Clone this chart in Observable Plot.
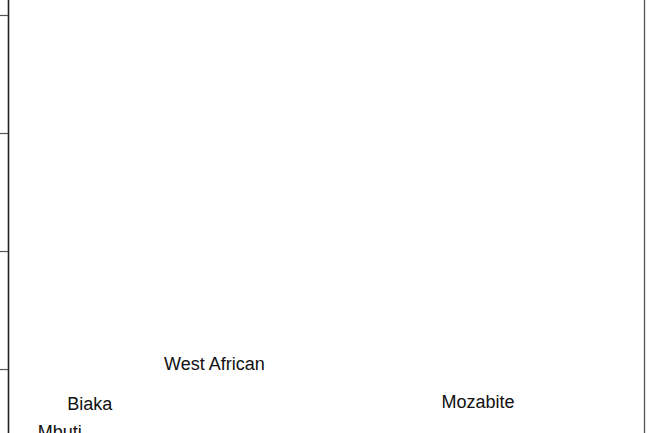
<!DOCTYPE html>
<html>
<head>
<meta charset="utf-8">
<script src="https://cdn.jsdelivr.net/npm/d3@7"></script>
<script src="https://cdn.jsdelivr.net/npm/@observablehq/plot@0.6"></script>
<style>
  html, body { margin: 0; padding: 0; background: #fff; }
  #chart svg { display: block; }
</style>
</head>
<body>
<div id="chart"></div>
<script>
// Population labels positioned by their coordinates (e.g. PC1, PC2)
const populations = ["West African", "Biaka", "Mozabite", "Mbuti"];
const pc1 = [0.0471, -0.0117, 0.1715, -0.0258];
const pc2 = [0.0041, -0.0298, -0.0273, -0.0529];
const yTicks = [0.0, 0.1, 0.2, 0.3];
const xDomain = [-0.05, 0.25];
const yDomain = [-0.0542, 0.3127];

const data = populations.map((p, i) => ({pop: p, x: pc1[i], y: pc2[i]}));

const chart = Plot.plot({
  width: 650,
  height: 433,
  marginLeft: 8,
  marginRight: 6,
  marginTop: 0,
  marginBottom: 0,
  style: {fontFamily: "'Liberation Sans', Arial, sans-serif", background: "#fff"},
  x: {domain: xDomain, axis: null},
  y: {domain: yDomain, axis: null},
  marks: [
    Plot.ruleX([xDomain[0]], {stroke: "#222", strokeWidth: 1.6}),
    Plot.ruleX([xDomain[1]], {stroke: "#555", strokeWidth: 1.3}),
    Plot.axisY({ticks: yTicks, tickSize: 8, tickFormat: () => "", label: null, stroke: "#555", strokeWidth: 1.2}),
    Plot.text(data, {x: "x", y: "y", text: "pop", fontSize: 18, fill: "#111"})
  ]
});
document.getElementById("chart").appendChild(chart);
</script>
</body>
</html>
